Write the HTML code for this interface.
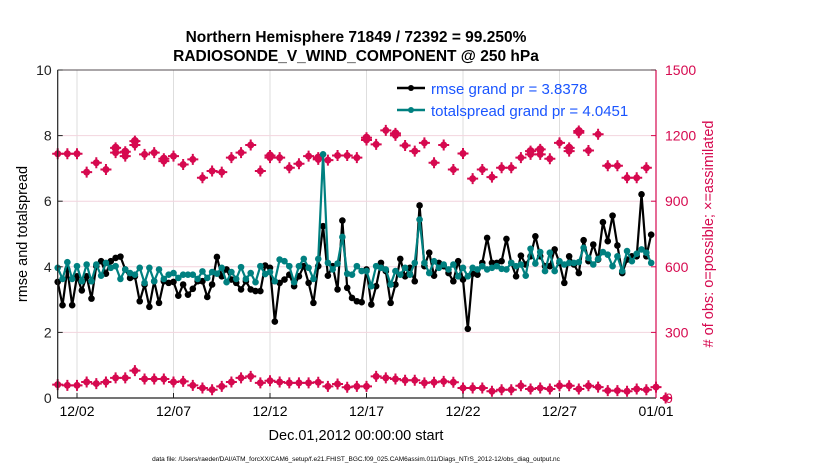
<!DOCTYPE html>
<html><head><meta charset="utf-8"><style>
body{margin:0;background:#fff;}
svg text{font-family:"Liberation Sans",Arial,sans-serif;}
</style></head><body>
<svg id="chart" width="830" height="470" xmlns="http://www.w3.org/2000/svg">
<text x="356" y="42" text-anchor="middle" font-size="15.5" font-weight="bold">Northern Hemisphere 71849 / 72392 = 99.250%</text>
<text x="356" y="61" text-anchor="middle" font-size="15.5" font-weight="bold">RADIOSONDE_V_WIND_COMPONENT @ 250 hPa</text>
<g id="grid"></g>
<g id="marks"></g>
<g id="axes"></g>
<text transform="translate(27,234) rotate(-90)" text-anchor="middle" font-size="14.5">rmse and totalspread</text>
<text transform="translate(713,234) rotate(-90)" text-anchor="middle" font-size="14.5" fill="#d6094f"># of obs: o=possible; ×=assimilated</text>
<text x="356" y="440" text-anchor="middle" font-size="14.5">Dec.01,2012 00:00:00 start</text>
<text x="356" y="461" text-anchor="middle" font-size="6.5">data file: /Users/raeder/DAI/ATM_forcXX/CAM6_setup/f.e21.FHIST_BGC.f09_025.CAM6assim.011/Diags_NTrS_2012-12/obs_diag_output.nc</text>
<g>
<line x1="397" y1="88" x2="425" y2="88" stroke="#000" stroke-width="2.5"/>
<circle cx="411" cy="88" r="3" fill="#000"/>
<text x="431" y="94" font-size="15" fill="#1a55ff">rmse grand pr = 3.8378</text>
<line x1="397" y1="110" x2="425" y2="110" stroke="#008080" stroke-width="2.5"/>
<circle cx="411" cy="110" r="3" fill="#008080"/>
<text x="431" y="116" font-size="15" fill="#1a55ff">totalspread grand pr = 4.0451</text>
</g>
</svg>
<script>
const xTickLabels=["12/02","12/07","12/12","12/17","12/22","12/27","01/01"];
const xTickDays=[1,6,11,16,21,26,31];
const yTicks=[0,2,4,6,8,10];
const y2Ticks=[0,300,600,900,1200,1500];
const rmse=[3.54,2.83,3.92,2.83,3.71,3.28,3.71,3.03,4.02,4.17,3.79,4.17,4.27,4.31,3.92,3.66,3.71,2.95,3.46,2.78,3.56,2.90,3.56,3.51,3.54,3.12,3.46,3.15,3.33,3.56,3.56,3.08,3.46,4.30,3.71,3.92,3.61,3.51,3.31,3.56,3.31,3.26,3.26,4.04,3.97,2.33,3.51,3.61,3.76,3.41,3.71,4.02,3.51,2.90,4.02,5.24,3.73,4.02,3.31,5.41,3.36,3.05,2.95,2.92,3.92,2.85,3.41,4.12,3.87,2.90,3.46,4.24,3.71,3.97,3.56,5.87,4.02,4.43,3.73,4.12,4.02,3.81,3.56,4.17,3.61,2.11,3.79,3.76,4.12,4.88,4.12,4.12,4.17,4.85,4.12,3.71,4.34,4.07,4.32,4.93,4.32,4.02,4.02,4.53,4.12,3.51,4.32,4.07,3.81,4.81,4.17,4.68,4.22,5.36,4.78,5.56,4.65,3.81,4.22,4.32,4.32,6.21,4.32,4.98];
const spread=[3.97,3.63,4.14,3.63,4.02,3.56,4.07,3.56,4.07,3.73,4.12,3.97,4.02,3.63,3.92,3.81,3.76,3.97,3.51,3.97,3.56,3.92,3.63,3.76,3.81,3.66,3.76,3.76,3.76,3.63,3.86,3.66,3.84,3.79,3.97,3.53,3.84,3.63,3.99,3.63,3.81,3.53,4.02,3.78,3.84,3.56,4.22,4.17,4.02,3.53,4.02,4.24,3.97,3.63,4.24,7.43,4.12,3.92,4.10,4.91,3.79,3.76,4.02,3.87,3.87,3.41,4.02,3.97,3.92,3.46,3.87,3.76,3.97,3.76,4.12,5.44,4.12,3.81,4.17,3.97,4.07,3.92,4.07,3.71,3.97,3.71,3.97,3.92,4.02,3.92,3.97,4.02,3.94,3.92,4.12,4.02,4.07,3.73,4.55,4.10,4.45,3.87,4.43,3.87,4.17,4.07,4.12,4.12,4.14,4.58,4.27,4.07,4.24,4.45,4.37,4.02,4.32,3.87,4.48,4.17,4.40,4.53,4.43,4.12];
const possibleTop=[1117,1117,1117,1033,1076,1045,1144,1126,1175,1114,1122,1094,1106,1068,1091,1007,1038,1033,1099,1122,1157,1038,1109,1099,1053,1071,1106,1099,1088,1109,1109,1099,1190,1160,1224,1210,1155,1129,1167,1076,1157,1045,1118,1003,1045,1010,1053,1053,1099,1129,1137,1094,1167,1144,1221,1132,1206,1062,1062,1007,1007,1053];
const assimTop=[1117,1117,1117,1033,1076,1045,1122,1106,1157,1114,1122,1083,1106,1068,1091,1007,1038,1033,1099,1122,1157,1038,1099,1099,1053,1071,1106,1091,1088,1109,1109,1099,1180,1160,1224,1201,1155,1129,1167,1076,1157,1045,1118,1003,1045,1010,1053,1053,1099,1114,1114,1094,1167,1129,1213,1132,1206,1062,1062,1007,1007,1053];
const obsBottom=[61,58,58,73,66,73,92,92,125,87,87,87,73,76,58,46,38,53,73,92,99,69,79,73,69,69,69,72,53,64,49,53,53,99,92,87,81,81,69,72,76,72,46,46,46,31,38,38,56,41,46,41,56,56,41,56,50,34,34,31,41,38,50,0];

const NS="http://www.w3.org/2000/svg";
const L=57.7,R=656,T=70,B=398;
const xDay=d=>L+(R-L)*d/31;
const yL=v=>B-(B-T)*v/10;
const yR=c=>B-(B-T)*c/1500;
function mk(tag,attrs,parent){const e=document.createElementNS(NS,tag);for(const k in attrs)e.setAttribute(k,attrs[k]);parent.appendChild(e);return e;}
const grid=document.getElementById('grid'),marks=document.getElementById('marks'),axes=document.getElementById('axes');
mk('rect',{x:L,y:T,width:R-L,height:B-T,fill:'#fff'},grid);
xTickDays.forEach((d,i)=>{
  const g=mk('line',{x1:xDay(d),x2:xDay(d),y1:T,y2:B,stroke:'#dedede','stroke-width':1},grid);
  
  
  const t=mk('text',{x:xDay(d),y:416,'text-anchor':'middle','font-size':14},axes);
  t.textContent=xTickLabels[i];
  
  
  mk('line',{x1:xDay(d),x2:xDay(d),y1:B,y2:B-5,stroke:'#222'},axes);
});
yTicks.forEach(v=>{
  const g=mk('line',{x1:L,x2:R,y1:yL(v),y2:yL(v),stroke:'#f2d4de','stroke-width':1},grid);
  
  
  const t=mk('text',{x:L-6,y:yL(v)+5,'text-anchor':'end','font-size':14,fill:'#222'},axes);
  t.textContent=v;
  
  
  mk('line',{x1:L,x2:L+5,y1:yL(v),y2:yL(v),stroke:'#222'},axes);
});
y2Ticks.forEach(c=>{
  const t=mk('text',{x:R+9,y:yR(c)+5,'font-size':14,fill:'#d6094f'},axes);
  t.textContent=c;
  
  
  mk('line',{x1:R,x2:R-5,y1:yR(c),y2:yR(c),stroke:'#d6094f'},axes);
});
mk('line',{x1:L,x2:L,y1:T,y2:B,stroke:'#222','stroke-width':1.2},axes);
mk('line',{x1:L,x2:R,y1:B,y2:B,stroke:'#222','stroke-width':1.2},axes);
mk('line',{x1:R,x2:R,y1:T,y2:B,stroke:'#d6094f','stroke-width':1.2},axes);
mk('line',{x1:L,x2:R,y1:T,y2:T,stroke:'#222','stroke-width':0.8},axes);

const MAG='#d6094f';
function obsMarker(x,y,circle,name){
  const g=mk('g',{},marks);
  
  
  if(circle){mk('circle',{cx:x,cy:y,r:3.3,fill:'none',stroke:MAG,'stroke-width':1.5},g);}
  mk('circle',{cx:x,cy:y,r:3.5,fill:MAG},g);
  mk('path',{d:`M${x-5.5} ${y}H${x+5.5}M${x} ${y-5.5}V${y+5.5}`,stroke:MAG,'stroke-width':2},g);
}
possibleTop.forEach((c,j)=>{const x=xDay(j*0.5);if(Math.abs(c-assimTop[j])>3)obsMarker(x,yR(c),true,'obs-possible-point');});
assimTop.forEach((c,j)=>obsMarker(xDay(j*0.5),yR(c),false,'obs-assimilated-point'));
obsBottom.forEach((c,j)=>obsMarker(xDay(j*0.5),yR(c),false,'obs-bottom-point'));

function series(vals,color,name){
  const pts=vals.map((v,i)=>[xDay(i*0.25),yL(v)]);
  const p=mk('polyline',{points:pts.map(p=>p.join(',')).join(' '),fill:'none',stroke:color,'stroke-width':2.2,'stroke-linejoin':'round'},marks);
  
  
  pts.forEach(q=>{
    const c=mk('circle',{cx:q[0],cy:q[1],r:3.3,fill:color},marks);
    
    
  });
}
series(rmse,'#000','rmse');
series(spread,'#008080','totalspread');
</script>
</body></html>
